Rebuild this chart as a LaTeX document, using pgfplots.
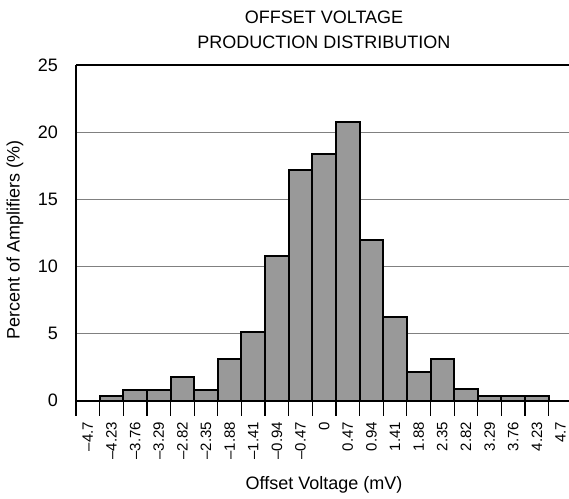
\documentclass[border=0pt]{standalone}
\usepackage{pgfplots}
\pgfplotsset{compat=1.18}
\usepackage{fontspec}
\setmainfont{Liberation Sans}
\definecolor{barfill}{HTML}{999999}
\definecolor{gridc}{HTML}{808080}
\begin{document}
\begin{tikzpicture}
\useasboundingbox (0,0) rectangle (569pt,498pt);
\begin{axis}[
  at={(76pt,97.3pt)}, anchor=south west,
  scale only axis, width=493pt, height=335.7pt,
  xmin=-0.5, xmax=20.36, ymin=0, ymax=25,
  axis x line=box, axis y line=left,
  axis line style={-, line width=1.8pt, black},
  every outer x axis line/.append style={-},
  every outer y axis line/.append style={-},
  xtick pos=bottom,
  tick align=outside,
  major tick length=0pt,
  minor tick length=15pt,
  xtick={0,...,20},
  xticklabels={--4.7,--4.23,--3.76,--3.29,--2.82,--2.35,--1.88,--1.41,--0.94,--0.47,0,0.47,0.94,1.41,1.88,2.35,2.82,3.29,3.76,4.23,4.7},
  minor xtick={-0.5,0.5,...,19.5},
  major x tick style={draw=none},
  minor x tick style={black, line width=1.2pt},
  ytick={0,5,...,25},
  ytick style={draw=none},
  /pgf/number format/assume math mode=true,
  xticklabel style={rotate=90, anchor=east, inner sep=0pt, font=\fontsize{15}{18}\selectfont},
  xticklabel shift=21pt,
  yticklabel style={inner sep=0pt, font=\fontsize{18}{22}\selectfont},
  yticklabel shift=18pt,
  ymajorgrids,
  grid style={gridc, line width=1pt},
  title={OFFSET VOLTAGE\\PRODUCTION DISTRIBUTION},
  title style={at={(axis description cs:0.503,1)}, anchor=south, inner sep=0pt, yshift=10pt, align=center, font=\fontsize{18}{25}\selectfont},
  xlabel={Offset Voltage (mV)},
  xlabel style={at={(axis description cs:0.503,0)}, anchor=base, inner sep=0pt, yshift=-89pt, font=\fontsize{18}{22}\selectfont},
  ylabel={Percent of Amplifiers (\%)},
  ylabel style={at={(axis description cs:-0.1237,0.48)}, anchor=center, inner sep=0pt, font=\fontsize{18}{22}\selectfont},
]
\addplot[ybar, bar width=1, bar shift=0pt, fill=barfill, draw=black, line width=2pt] coordinates {
  (1,0.35) (2,0.77) (3,0.77) (4,1.79) (5,0.77) (6,3.1) (7,5.1) (8,10.75) (9,17.2) (10,18.4)
  (11,20.75) (12,11.95) (13,6.25) (14,2.15) (15,3.1) (16,0.85) (17,0.35) (18,0.35) (19,0.35)
};
\end{axis}
\end{tikzpicture}
\end{document}
